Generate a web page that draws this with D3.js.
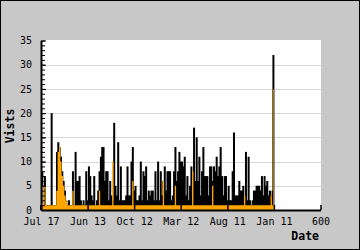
<!DOCTYPE html>
<html>
<head>
<meta charset="utf-8">
<script src="https://cdnjs.cloudflare.com/ajax/libs/d3/7.8.5/d3.min.js"></script>
<style>
  body { margin: 0; background: #fff; }
  text { font-family: "DejaVu Sans Mono", monospace; }
</style>
</head>
<body>
<div id="chart-area"></div>
<script>

// values, one every ~2.86 days (0 .. 500)
var visits = [1,8,1,7,1,1,1,1,20,1,1,1,12,14,13,11,8,6,4,2,
  1,2,1,1,8,1,12,6,6,7,2,1,2,1,8,2,9,7,3,2,
  7,1,2,4,8,11,13,13,6,8,8,2,6,3,2,18,5,3,14,2,
  9,2,2,2,3,9,3,3,10,13,4,5,2,2,3,10,2,8,7,9,
  2,4,3,4,4,2,8,2,10,2,8,3,6,9,4,8,8,8,2,3,
  8,13,6,8,12,10,10,9,11,3,7,2,5,9,2,17,6,15,6,11,
  3,8,13,7,7,7,3,9,9,6,9,8,11,7,9,13,7,3,7,7,
  2,5,2,2,8,16,3,3,3,6,4,4,5,2,12,2,11,2,1,2,
  4,4,5,5,5,4,7,3,7,5,6,3,4,3,4,32];

var uniques = [1,5,1,5,1,1,1,1,1,1,1,1,4,12,13,10,7,5,3,2,
  1,1,1,1,4,1,1,1,1,1,1,1,1,1,1,1,1,1,1,1,
  1,1,1,1,4,1,1,1,1,1,1,1,1,1,10,1,1,1,1,1,
  1,1,1,1,1,1,1,1,1,6,1,1,1,1,1,1,1,1,1,1,
  1,1,1,1,1,1,1,1,1,1,1,1,6,1,1,1,1,1,1,1,
  1,5,1,1,1,1,1,1,1,1,1,1,1,1,8,1,1,1,1,1,
  1,1,1,1,1,1,1,1,1,5,1,1,1,1,1,1,1,1,1,1,
  1,1,1,1,1,1,1,1,1,1,1,1,1,3,1,1,1,1,1,1,
  1,1,1,1,1,1,1,1,1,1,1,1,1,3,1,25];

var xTickValues = [0, 100, 200, 300, 400, 500, 600];
var xTickLabels = ["Jul 17", "Jun 13", "Oct 12", "Mar 12", "Aug 11", "Jan 11", "600"];
var yTickValues = [0, 5, 10, 15, 20, 25, 30, 35];
var lastDay = 500;

var width = 360, height = 250;
var plot = {left: 41, right: 321, top: 40, bottom: 210};

var svg = d3.select("#chart-area")
    .append("svg")
        .attr("width", width)
        .attr("height", height);

// grey frame
svg.append("rect")
    .attr("x", 0.5).attr("y", 0.5)
    .attr("width", width - 1).attr("height", height - 1)
    .attr("fill", "#c8c8c8")
    .attr("stroke", "#000");

svg.append("rect")
    .attr("x", plot.left).attr("y", plot.top)
    .attr("width", plot.right - plot.left).attr("height", plot.bottom - plot.top)
    .attr("fill", "#fff");

var step = lastDay / (visits.length - 1);

var xScale = d3.scaleLinear().domain([0, 600]).range([plot.left, plot.right - 0.5]);
var yScale = d3.scaleLinear().domain([0, 35]).range([plot.bottom, plot.top + 0.5]);

// grid
svg.append("g")
    .selectAll("line")
    .data(yTickValues.filter(function(d) { return d > 0 && d < 35; }))
    .enter().append("line")
        .attr("x1", plot.left).attr("x2", plot.right)
        .attr("y1", function(d) { return Math.round(yScale(d)) + 0.5; })
        .attr("y2", function(d) { return Math.round(yScale(d)) + 0.5; })
        .attr("stroke", "#d8d8d8");

// visits as thin columns, slightly overlapping like the original
var barW = 2;
svg.append("g")
    .selectAll("rect")
    .data(visits)
    .enter().append("rect")
        .attr("x", function(d, i) { return Math.min(xScale(i * step) - barW / 2, xScale(lastDay) - barW + 0.5); })
        .attr("width", barW)
        .attr("y", function(d) { return yScale(d); })
        .attr("height", function(d) { return yScale(0) - yScale(d); })
        .attr("fill", "#000");

var uniqueArea = d3.area()
    .curve(d3.curveStep)
    .x(function(d, i) { return xScale(i * step); })
    .y0(yScale(0))
    .y1(function(d) { return yScale(d); });

svg.append("path")
    .attr("d", uniqueArea(uniques))
    .attr("fill", "#ffa500");

// x axis
var xAxis = d3.axisBottom(xScale)
    .tickValues(xTickValues)
    .tickSize(-5)
    .tickSizeOuter(0)
    .tickPadding(8)
    .tickFormat(function(d, i) { return xTickLabels[i]; });

var xAxisEl = svg.append("g")
    .attr("transform", "translate(0," + plot.bottom + ")")
    .call(xAxis);
xAxisEl.select(".domain").attr("stroke-width", 2);
xAxisEl.selectAll(".tick line").attr("stroke-width", 1.5);
xAxisEl.selectAll("text")
    .attr("font-size", 10)
    .attr("font-family", "DejaVu Sans Mono")
    .attr("fill", "#000");

// y axis: minor ticks every unit, labelled ones every 5
var yMinor = d3.axisRight(yScale)
    .tickValues(d3.range(0, 36))
    .tickSize(4)
    .tickSizeOuter(0)
    .tickFormat("");

svg.append("g")
    .attr("transform", "translate(" + plot.left + ",0)")
    .call(yMinor)
    .select(".domain").remove();

var yAxis = d3.axisLeft(yScale)
    .tickValues(yTickValues)
    .tickSize(-5)
    .tickSizeOuter(0)
    .tickPadding(9);

var yAxisEl = svg.append("g")
    .attr("transform", "translate(" + plot.left + ",0)")
    .call(yAxis);
yAxisEl.select(".domain").attr("stroke-width", 2);
yAxisEl.selectAll("text")
    .attr("font-size", 10)
    .attr("font-family", "DejaVu Sans Mono")
    .attr("fill", "#000");

// axis titles
svg.append("text")
    .attr("transform", "translate(14,126) rotate(-90)")
    .attr("text-anchor", "middle")
    .attr("font-size", 11.5)
    .attr("font-weight", "bold")
    .text("Vists");

svg.append("text")
    .attr("x", 319).attr("y", 240)
    .attr("text-anchor", "end")
    .attr("font-size", 11.5)
    .attr("font-weight", "bold")
    .text("Date");

</script>
</body>
</html>
